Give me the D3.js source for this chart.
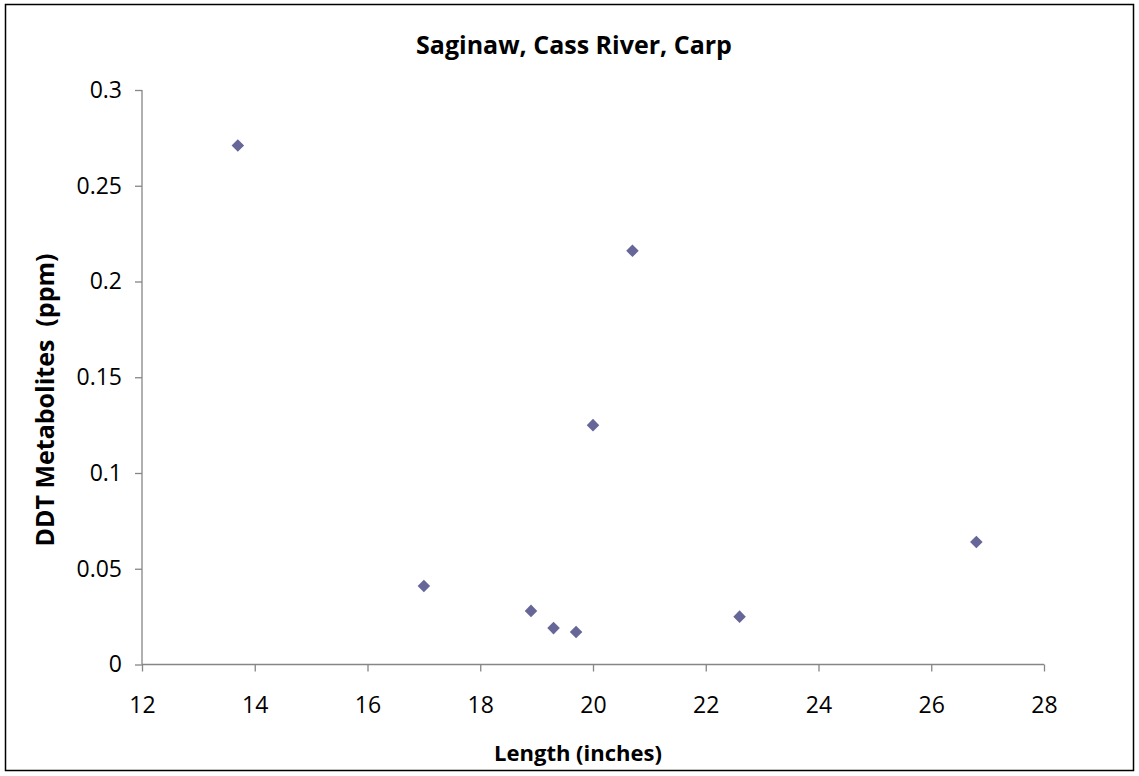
<!DOCTYPE html>
<html><head><meta charset="utf-8">
<script src="https://cdn.jsdelivr.net/npm/d3@7"></script>
<style>body{margin:0;background:#fff;} text{font-family:"Open Sans", sans-serif;}</style>
</head><body>
<svg id="c" width="1139" height="776"></svg>
<script>
const title = "Saginaw, Cass River, Carp";
const xLabel = "Length (inches)";
const yLabel = "DDT Metabolites  (ppm)";
const lengths = [13.7, 17.0, 18.9, 19.3, 19.7, 20.0, 20.7, 22.6, 26.8];
const ddt = [0.271, 0.041, 0.028, 0.019, 0.017, 0.125, 0.216, 0.025, 0.064];
const xTicks = [12, 14, 16, 18, 20, 22, 24, 26, 28];
const yTicks = [0, 0.05, 0.1, 0.15, 0.2, 0.25, 0.3];

const F = "'Open Sans', sans-serif";
const svg = d3.select("#c");
svg.append("rect").attr("x",5.5).attr("y",4.5).attr("width",1128).attr("height",766)
  .attr("fill","#fff").attr("stroke","#000").attr("stroke-width",1.5);

const x = d3.scaleLinear().domain([12,28]).range([142,1044]);
const y = d3.scaleLinear().domain([0,0.3]).range([664.5,90]);

const xa = svg.append("g").attr("transform","translate(0,664.5)")
  .call(d3.axisBottom(x).tickValues(xTicks).tickSize(7).tickPadding(25).tickFormat(d3.format("d")));
const ya = svg.append("g").attr("transform","translate(142,0)")
  .call(d3.axisLeft(y).tickValues(yTicks).tickSize(7).tickPadding(13).tickFormat(d=>String(+d.toFixed(2))));
[xa,ya].forEach(a=>{
  a.selectAll("path,line").attr("stroke","#868686").attr("stroke-width",1.3);
  a.select(".domain").attr("d", a===xa ? "M142,0H1044" : "M0,664.5V90");
  a.selectAll("text").attr("font-size",23).attr("fill","#000").style("font-family",F);
});

const pts = lengths.map((l,i)=>({l, v: ddt[i]}));
svg.append("g").selectAll("path").data(pts).join("path")
  .attr("d", d3.symbol(d3.symbolDiamond2, 100))
  .attr("transform", d=>`translate(${x(d.l)},${y(d.v)})`)
  .attr("fill","#666699");

svg.append("text").attr("x",574).attr("y",54).attr("text-anchor","middle")
  .attr("font-size",25).attr("font-weight","bold").text(title);
svg.append("text").attr("x",578).attr("y",761).attr("text-anchor","middle")
  .attr("font-size",22).attr("font-weight","bold").text(xLabel);
svg.append("text").attr("transform","translate(54,400) rotate(-90)").attr("text-anchor","middle")
  .style("white-space","pre")
  .attr("font-size",25).attr("font-weight","bold").text(yLabel);
</script>
</body></html>
